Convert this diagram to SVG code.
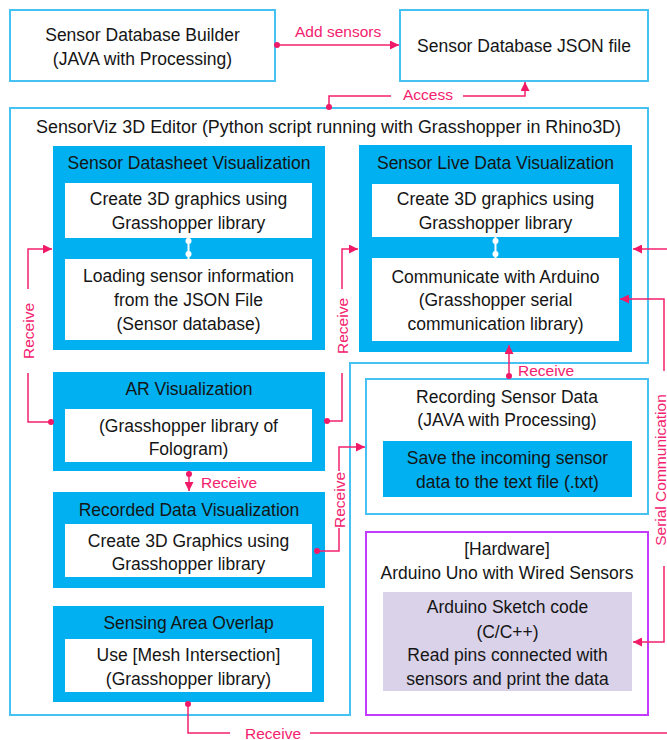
<svg xmlns="http://www.w3.org/2000/svg" width="667" height="740" viewBox="0 0 667 740">
<style>
.t{font-family:"Liberation Sans",Arial,sans-serif;font-size:17.5px;fill:#151515;text-anchor:middle;dominant-baseline:central}
.ob{fill:#fff;stroke:#45C1F2;stroke-width:2}
.bb{fill:#00B0F0}
.wb{fill:#fff}
.pk{fill:none;stroke:#F4216E;stroke-width:1.5}
.dot{fill:#F01A68}
.lbl{font-family:"Liberation Sans",Arial,sans-serif;font-size:15.5px;fill:#F4216E;dominant-baseline:central}
.wl{stroke:#fff;stroke-width:2}
.wd{fill:#fff}
</style>
<defs>
<marker id="ah" viewBox="0 0 10 10" refX="10" refY="5" markerWidth="9" markerHeight="9" markerUnits="userSpaceOnUse" orient="auto">
<path d="M0,0 L10,5 L0,10 Z" fill="#F01A68"/>
</marker>
</defs>

<g id="builder">
<rect class="ob" x="10" y="10" width="265" height="71"/>
<text class="t" x="142.5" y="35">Sensor Database Builder</text>
<text class="t" x="142.5" y="59">(JAVA with Processing)</text>
</g>
<g id="json">
<rect class="ob" x="400" y="10" width="248" height="71"/>
<text class="t" x="524" y="46">Sensor Database JSON file</text>
</g>
<g id="editor">
<path class="ob" d="M10,108 H648 V363 H350 V715 H10 Z"/>
<text class="t" x="36" y="127" style="text-anchor:start" textLength="585" lengthAdjust="spacingAndGlyphs">SensorViz 3D Editor (Python script running with Grasshopper in Rhino3D)</text>
</g>
<g id="datasheet">
<rect class="bb" x="53" y="146" width="272" height="204"/>
<text class="t" x="189" y="163">Sensor Datasheet Visualization</text>
<rect class="wb" x="65" y="183" width="247" height="55"/>
<text class="t" x="188.5" y="199">Create 3D graphics using</text>
<text class="t" x="188.5" y="223">Grasshopper library</text>
<rect class="wb" x="65" y="259" width="247" height="81"/>
<text class="t" x="188.5" y="276">Loading sensor information</text>
<text class="t" x="188.5" y="300">from the JSON File</text>
<text class="t" x="188.5" y="324">(Sensor database)</text>
<line class="wl" x1="188.5" y1="238" x2="188.5" y2="259"/>
<circle class="wd" cx="188.5" cy="241" r="3"/>
<circle class="wd" cx="188.5" cy="254" r="3"/>
</g>
<g id="live">
<rect class="bb" x="359" y="145" width="273" height="207"/>
<text class="t" x="495.5" y="163">Sensor Live Data Visualization</text>
<rect class="wb" x="372" y="184" width="247" height="53"/>
<text class="t" x="495.5" y="199">Create 3D graphics using</text>
<text class="t" x="495.5" y="223">Grasshopper library</text>
<rect class="wb" x="372" y="258" width="247" height="83"/>
<text class="t" x="495.5" y="277">Communicate with Arduino</text>
<text class="t" x="495.5" y="300">(Grasshopper serial</text>
<text class="t" x="495.5" y="324">communication library)</text>
<line class="wl" x1="495.5" y1="237" x2="495.5" y2="258"/>
<circle class="wd" cx="495.5" cy="241" r="3"/>
<circle class="wd" cx="495.5" cy="254" r="3"/>
</g>
<g id="ar">
<rect class="bb" x="53" y="372" width="272" height="99"/>
<text class="t" x="189" y="389">AR Visualization</text>
<rect class="wb" x="65" y="409" width="247" height="53"/>
<text class="t" x="188.5" y="426">(Grasshopper library of</text>
<text class="t" x="188.5" y="449">Fologram)</text>
</g>
<g id="recorded">
<rect class="bb" x="53" y="492" width="272" height="96"/>
<text class="t" x="189" y="510">Recorded Data Visualization</text>
<rect class="wb" x="65" y="524" width="247" height="53"/>
<text class="t" x="188.5" y="541">Create 3D Graphics using</text>
<text class="t" x="188.5" y="564">Grasshopper library</text>
</g>
<g id="overlap">
<rect class="bb" x="53" y="606" width="271" height="96"/>
<text class="t" x="188.5" y="623">Sensing Area Overlap</text>
<rect class="wb" x="65" y="639" width="247" height="53"/>
<text class="t" x="188.5" y="655">Use [Mesh Intersection]</text>
<text class="t" x="188.5" y="679">(Grasshopper library)</text>
</g>
<g id="recording">
<rect class="ob" x="366" y="379" width="282" height="135"/>
<text class="t" x="507" y="397">Recording Sensor Data</text>
<text class="t" x="507" y="420">(JAVA with Processing)</text>
<rect class="bb" x="383" y="441" width="249" height="56"/>
<text class="t" x="507.5" y="458">Save the incoming sensor</text>
<text class="t" x="507.5" y="482">data to the text file (.txt)</text>
</g>
<g id="hardware">
<rect x="366" y="532" width="282" height="183" fill="#fff" stroke="#C33BFF" stroke-width="2"/>
<text class="t" x="507" y="549">[Hardware]</text>
<text class="t" x="507" y="573">Arduino Uno with Wired Sensors</text>
<rect x="383" y="592" width="249" height="99" fill="#D9D2E9"/>
<text class="t" x="507.5" y="607">Arduino Sketch code</text>
<text class="t" x="507.5" y="632">(C/C++)</text>
<text class="t" x="507.5" y="655">Read pins connected with</text>
<text class="t" x="507.5" y="679">sensors and print the data</text>
</g>

<g id="connectors">
<line class="pk" x1="277" y1="45" x2="399" y2="45" marker-end="url(#ah)"/>
<circle class="dot" cx="277" cy="45" r="3"/>
<text class="lbl" x="295" y="31">Add sensors</text>

<path class="pk" d="M329,108 V96 H391"/>
<path class="pk" d="M463,96 H525 V82" marker-end="url(#ah)"/>
<circle class="dot" cx="329" cy="107" r="3"/>
<text class="lbl" x="403" y="94">Access</text>

<path class="pk" d="M51,422 H28 V373"/>
<path class="pk" d="M28,289 V249 H52" marker-end="url(#ah)"/>
<circle class="dot" cx="51" cy="422" r="3"/>
<text class="lbl" x="28" y="331" transform="rotate(-90 28 331)" style="text-anchor:middle">Receive</text>

<path class="pk" d="M327,421 H342 V373"/>
<path class="pk" d="M342,289 V249 H358" marker-end="url(#ah)"/>
<circle class="dot" cx="327" cy="421" r="3"/>
<text class="lbl" x="342" y="326" transform="rotate(-90 342 326)" style="text-anchor:middle">Receive</text>

<line class="pk" x1="189" y1="474" x2="189" y2="491" marker-end="url(#ah)"/>
<circle class="dot" cx="189" cy="474" r="3"/>
<text class="lbl" x="201" y="482">Receive</text>

<path class="pk" d="M317,551 H339 V528"/>
<path class="pk" d="M339,471 V447 H365" marker-end="url(#ah)"/>
<circle class="dot" cx="317" cy="551" r="3"/>
<text class="lbl" x="339" y="500" transform="rotate(-90 339 500)" style="text-anchor:middle">Receive</text>

<line class="pk" x1="509" y1="376" x2="509" y2="345" marker-end="url(#ah)"/>
<circle class="dot" cx="509" cy="376" r="3"/>
<text class="lbl" x="518" y="370">Receive</text>

<line class="pk" x1="667" y1="249" x2="633" y2="249" marker-end="url(#ah)"/>
<path class="pk" d="M664,371 V299 H620" marker-end="url(#ah)"/>
<path class="pk" d="M664,566 V642 H633" marker-end="url(#ah)"/>
<text class="lbl" x="660" y="470" transform="rotate(-90 660 470)" style="text-anchor:middle">Serial Communication</text>

<path class="pk" d="M188,704 V733 H230"/>
<path class="pk" d="M310,733 H667"/>
<circle class="dot" cx="188" cy="704" r="3"/>
<text class="lbl" x="245" y="733">Receive</text>
</g>
</svg>
